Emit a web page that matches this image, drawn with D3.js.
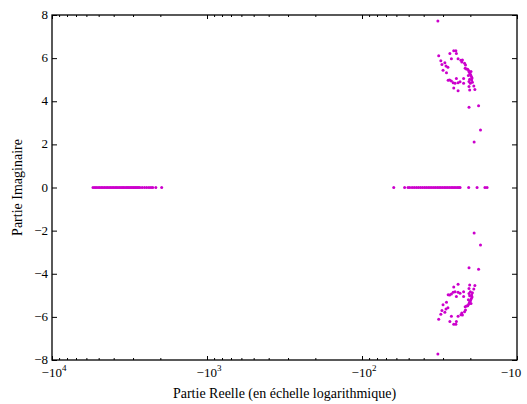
<!DOCTYPE html>
<html><head><meta charset="utf-8">
<script src="https://cdn.jsdelivr.net/npm/d3@7"></script>
<style>body{margin:0;background:#fff}svg text{font-family:"Liberation Serif","Times New Roman",serif;fill:#000}</style>
</head><body><svg id="c" width="527" height="404"></svg>
<script>
// Real eigenvalues (imag = 0)
const leftReal = [-5440,-5300,-5180,-5050,-4930,-4810,-4700,-4590,-4480,-4380,-4280,-4180,-4090,-4000,-3910,-3830,-3750,-3670,-3590,-3520,-3450,-3380,-3310,-3250,-3190,-3130,-3070,-3010,-2960,-2910,-2860,-2810,-2760,-2710,-2620,-2530,-2450,-2370,-2300,-2240,-2140,-1960];
const rightReal = [-62.4,-53.1,-50.5,-49.2,-47.5,-46.0,-44.6,-43.3,-42.0,-40.8,-39.6,-38.5,-37.4,-36.4,-35.4,-34.4,-33.5,-32.6,-31.8,-31.0,-30.2,-29.4,-28.7,-28.0,-27.3,-26.6,-26.0,-25.4,-24.8,-24.2,-23.7,-23.3,-20.5,-18.1,-16.1,-15.6];
// Complex eigenvalues (upper half; conjugates drawn too)
const complexRe = [-32.4,-32.0,-31.0,-30.5,-30.0,-29.2,-28.5,-28.7,-27.9,-27.1,-26.5,-25.6,-24.8,-24.6,-24.0,-23.0,-22.7,-22.5,-21.8,-21.5,
  -21.6,-21.2,-20.8,-20.5,-20.3,-20.1,-19.9,-19.7,-19.5,-20.2,-19.6,-20.4,-19.4,-20.0,-19.8,-20.6,
  -27.8,-27.2,-26.5,-25.8,-25.1,-24.6,-24.0,-23.3,-22.1,-22.1,
  -25.6,-24.0,-20.4,-20.2,-19.0,-18.7,-20.4,-17.7,-17.2,-18.9];
const complexIm = [7.72,6.11,5.88,5.71,5.44,5.79,5.32,5.64,5.58,6.21,5.97,6.34,6.34,6.22,5.97,5.90,5.82,5.91,5.76,5.68,
  5.53,5.50,5.48,5.42,5.35,5.28,5.22,5.15,5.08,5.02,4.98,4.92,4.88,4.84,5.38,5.20,
  4.97,4.99,4.94,4.86,4.83,5.06,4.86,4.91,5.06,4.83,
  4.61,4.49,4.68,4.52,4.71,4.55,3.72,3.79,2.67,2.11];
const xMajor = [10000,1000,100,10];
const xMajorLabels = ["4","3","2",""];
const yTicks = [-8,-6,-4,-2,0,2,4,6,8];

const W=527,H=404, L=52, R=517, T=15, B=360;
const svg = d3.select("#c");
const x = d3.scaleLog().domain([10000,10]).range([L,R]); // applied to -re
const y = d3.scaleLinear().domain([-8,8]).range([B,T]);

const pts = [];
leftReal.forEach(v=>pts.push([v,0]));
rightReal.forEach(v=>pts.push([v,0]));
complexRe.forEach((v,i)=>{pts.push([v,complexIm[i]]);pts.push([v,-complexIm[i]]);});

svg.append("g").selectAll("circle").data(pts).join("circle")
  .attr("cx",d=>x(-d[0])).attr("cy",d=>y(d[1])).attr("r",1.5).attr("fill","#cc00cc");

// minor ticks
const minor=[];
[1000,100,10].forEach(b=>{for(let k=2;k<=9;k++) minor.push(b*k);});

function styleAxis(g){g.select(".domain").remove();g.selectAll("line").attr("stroke","#000").attr("stroke-width",1);g.selectAll("text").remove();}
svg.append("g").attr("transform",`translate(0,${B})`).call(d3.axisBottom(x).tickValues(xMajor).tickSize(-4)).call(styleAxis);
svg.append("g").attr("transform",`translate(0,${B})`).call(d3.axisBottom(x).tickValues(minor).tickSize(-2)).call(styleAxis);
svg.append("g").attr("transform",`translate(0,${T})`).call(d3.axisTop(x).tickValues(xMajor).tickSize(-4)).call(styleAxis);
svg.append("g").attr("transform",`translate(0,${T})`).call(d3.axisTop(x).tickValues(minor).tickSize(-2)).call(styleAxis);
svg.append("g").attr("transform",`translate(${L},0)`).call(d3.axisLeft(y).tickValues(yTicks).tickSize(-5)).call(styleAxis);
svg.append("g").attr("transform",`translate(${R},0)`).call(d3.axisRight(y).tickValues(yTicks).tickSize(-5)).call(styleAxis);

svg.append("rect").attr("x",L).attr("y",T).attr("width",R-L).attr("height",B-T)
  .attr("fill","none").attr("stroke","#000").attr("stroke-width",1.3);

// y labels
svg.append("g").selectAll("text").data(yTicks).join("text")
  .attr("x",L-4).attr("y",d=>y(d)+4).attr("text-anchor","end").attr("font-size",13)
  .text(d=>d<0?"\u2212"+(-d):d);

// x labels
xMajor.forEach((v,i)=>{
  const t = svg.append("text").attr("y",377).attr("font-size",13).attr("text-anchor","middle")
    .attr("x", i===3 ? x(v)-6 : x(v)+2);
  t.append("tspan").text("\u221210");
  if(xMajorLabels[i]) t.append("tspan").attr("dy",-6).attr("font-size",9).text(xMajorLabels[i]);
});

svg.append("text").attr("x",(L+R)/2).attr("y",398).attr("text-anchor","middle").attr("font-size",14)
  .text("Partie Reelle (en échelle logarithmique)");
svg.append("text").attr("transform",`translate(22,${(T+B)/2}) rotate(-90)`).attr("text-anchor","middle").attr("font-size",14)
  .text("Partie Imaginaire");
</script></body></html>
